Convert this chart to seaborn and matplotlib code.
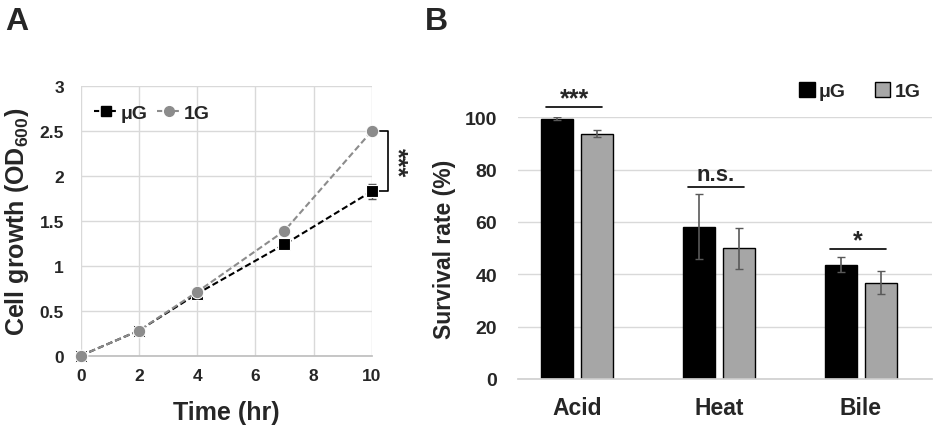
import matplotlib
matplotlib.use("Agg")
import matplotlib.pyplot as plt
from matplotlib.lines import Line2D
from matplotlib.patches import Patch
import seaborn as sns
import pandas as pd
import numpy as np

# ---- Data: panel A (growth curve) ----
time_hr = [0, 2, 4, 7, 10]
growth_ug = [0.0, 0.28, 0.69, 1.24, 1.83]
growth_ug_err = [0.0, 0.01, 0.02, 0.02, 0.08]
growth_1g = [0.0, 0.28, 0.71, 1.39, 2.50]
x_ticks_a = [0, 2, 4, 6, 8, 10]
y_ticks_a = [0, 0.5, 1, 1.5, 2, 2.5, 3]
y_ticklabels_a = ["0", "0.5", "1", "1.5", "2", "2.5", "3"]

# ---- Data: panel B (survival) ----
stress = ["Acid", "Heat", "Bile"]
surv_ug = [99.4, 58.2, 43.7]
surv_ug_err = [0.6, 12.5, 2.8]
surv_1g = [93.8, 49.9, 36.8]
surv_1g_err = [1.5, 7.8, 4.3]
sig_labels = ["***", "n.s.", "*"]
sig_levels = [104.1, 73.5, 49.8]
groups = ["μG", "1G"]
y_ticks_b = [0, 20, 40, 60, 80, 100]

sns.set_theme(style="white")
plt.rcParams["font.family"] = ["Liberation Sans", "DejaVu Sans"]
plt.rcParams["font.weight"] = "bold"
plt.rcParams["mathtext.fontset"] = "custom"
plt.rcParams["mathtext.bf"] = "Liberation Sans:bold"
plt.rcParams["mathtext.rm"] = "Liberation Sans:bold"

W, H = 941, 431
fig = plt.figure(figsize=(W / 100, H / 100), dpi=100)

def axbox(x0, y0, x1, y1):
    return [x0 / W, 1 - y1 / H, (x1 - x0) / W, (y1 - y0) / H]

grid_c = "#d9d9d9"
gray_line = "#8c8c8c"

# ---------------- Panel A ----------------
axA = fig.add_axes(axbox(80.7, 87.3, 371.7, 356.7))
dfA = pd.DataFrame({
    "time": time_hr * 2,
    "od": growth_ug + growth_1g,
    "group": ["μG"] * len(time_hr) + ["1G"] * len(time_hr),
})
axA.errorbar(time_hr, growth_ug, yerr=growth_ug_err, fmt="none",
             ecolor="#555555", elinewidth=1, capsize=3, zorder=2, clip_on=False)
sns.lineplot(data=dfA, x="time", y="od", hue="group", style="group",
             palette={"μG": "black", "1G": gray_line},
             markers={"μG": "s", "1G": "o"}, dashes={"μG": (3, 1.5), "1G": (3, 1.5)},
             markersize=9, linewidth=1.5, ax=axA, legend=False,
             hue_order=["μG", "1G"], markeredgewidth=0.8, zorder=3)
for ln in axA.lines:
    ln.set_clip_on(False)
axA.set_xlim(0, 10)
axA.set_ylim(0, 3)
axA.set_xticks(x_ticks_a)
axA.set_yticks(y_ticks_a)
axA.set_yticklabels(y_ticklabels_a)
axA.grid(True, color=grid_c, linewidth=1)
for s in ["top", "right", "left"]:
    axA.spines[s].set_visible(False)
axA.spines["bottom"].set_color("#bfbfbf")
axA.tick_params(axis="y", length=0, labelsize=12.5, pad=12)
axA.tick_params(axis="x", length=0, labelsize=12.5, pad=9)
for lab in axA.get_xticklabels() + axA.get_yticklabels():
    lab.set_fontweight("bold")
axA.set_xlabel("Time (hr)", fontsize=18, fontweight="bold", labelpad=12)
axA.set_ylabel("Cell growth (OD$_{\\mathbf{600}}$)", fontsize=18,
               fontweight="bold", labelpad=6)
legA = [Line2D([0], [0], color="black", ls=(0, (2.5, 1.5)), marker="s", markersize=7, lw=1.5),
        Line2D([0], [0], color=gray_line, ls=(0, (2.5, 1.5)), marker="o", markersize=7, lw=1.5)]
axA.legend(legA, groups, loc="upper left", bbox_to_anchor=(0.0, 0.985), ncol=2,
           frameon=False, handlelength=1.2, handletextpad=0.15, columnspacing=0.5,
           prop={"weight": "bold", "size": 14}, borderaxespad=0.3)
# bracket
bx0, bx1 = 10.2, 10.55
axA.plot([bx0, bx1, bx1, bx0], [2.5, 2.5, 1.83, 1.83], color="black", lw=1.2,
         clip_on=False)
axA.text(10.85, (2.5 + 1.83) / 2, "***", rotation=270, ha="center", va="center",
         fontsize=18, fontweight="bold")

# ---------------- Panel B ----------------
axB = fig.add_axes(axbox(518, 118.3, 932, 380))
dfB = pd.DataFrame({
    "stress": stress * 2,
    "rate": surv_ug + surv_1g,
    "group": ["μG"] * 3 + ["1G"] * 3,
})
sns.barplot(data=dfB, x="stress", y="rate", hue="group", hue_order=groups,
            order=stress, palette={"μG": "black", "1G": "#a6a6a6"},
            width=0.563, gap=0.195, edgecolor="black", linewidth=1.0,
            ax=axB, legend=False, errorbar=None, zorder=2)
errs = [surv_ug_err, surv_1g_err]
for cont, err in zip(axB.containers, errs):
    xs = [b.get_x() + b.get_width() / 2 for b in cont]
    hs = [b.get_height() for b in cont]
    axB.errorbar(xs, hs, yerr=err, fmt="none", ecolor="#595959",
                 elinewidth=1.2, capsize=3, zorder=3)
axB.set_xlim(-0.415, 2.5)
axB.set_ylim(0, 100)
axB.set_yticks(y_ticks_b)
axB.yaxis.grid(True, color=grid_c, linewidth=1)
axB.set_axisbelow(True)
for s in ["top", "right", "left"]:
    axB.spines[s].set_visible(False)
axB.spines["bottom"].set_color("#d0d0d0")
axB.tick_params(axis="y", length=0, labelsize=14, pad=15)
axB.tick_params(axis="x", length=0, labelsize=16.5, pad=12)
for lab in axB.get_xticklabels() + axB.get_yticklabels():
    lab.set_fontweight("bold")
axB.set_xlabel("")
axB.set_ylabel("Survival rate (%)", fontsize=16.5, fontweight="bold", labelpad=6)
# significance lines
for i, (lab, lvl) in enumerate(zip(sig_labels, sig_levels)):
    axB.plot([i - 0.215, i + 0.177], [lvl, lvl], color="black", lw=1.2, clip_on=False)
    is_ns = lab == "n.s."
    axB.text(i - 0.02, lvl + (0.8 if is_ns else -1.5), lab, ha="center", va="bottom",
             fontsize=16 if is_ns else 18, fontweight="bold")
legB = [Patch(facecolor="black", edgecolor="black"),
        Patch(facecolor="#a6a6a6", edgecolor="black")]
axB.legend(legB, groups, loc="lower right", bbox_to_anchor=(1.0, 1.02), ncol=2,
           frameon=False, handlelength=0.8, handleheight=0.8, handletextpad=0.2,
           columnspacing=1.5, prop={"weight": "bold", "size": 14}, borderaxespad=0.2)

fig.text(5 / W, 1 - 30 / H, "A", fontsize=23, fontweight="bold")
fig.text(425 / W, 1 - 30 / H, "B", fontsize=23, fontweight="bold")

fig.savefig("out.png", dpi=100)
